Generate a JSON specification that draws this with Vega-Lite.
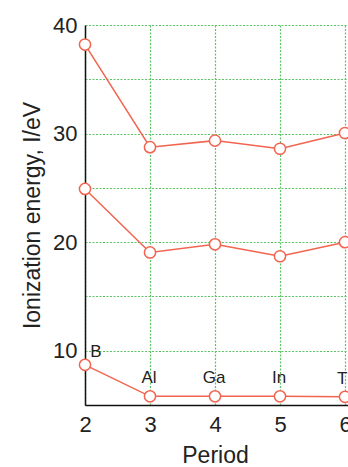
{
  "$schema": "https://vega.github.io/schema/vega-lite/v6.json",
  "autosize": "none",
  "padding": {"left": 85, "top": 25, "right": 0, "bottom": 62},
  "width": 325,
  "height": 380,
  "background": "white",
  "config": {
    "font": "Liberation Sans",
    "view": {"stroke": null},
    "axis": {"labelFont": "Liberation Sans", "titleFont": "Liberation Sans", "labelColor": "#222", "titleColor": "#222", "titleFontWeight": "normal", "labelFlush": false}
  },
  "data": {
    "values": [
      {"period": 2, "element": "B", "series": "I1", "energy": 8.7},
      {"period": 3, "element": "Al", "series": "I1", "energy": 5.8},
      {"period": 4, "element": "Ga", "series": "I1", "energy": 5.8},
      {"period": 5, "element": "In", "series": "I1", "energy": 5.8},
      {"period": 6, "element": "Tl", "series": "I1", "energy": 5.75},
      {"period": 2, "element": "B", "series": "I2", "energy": 24.9},
      {"period": 3, "element": "Al", "series": "I2", "energy": 19.05},
      {"period": 4, "element": "Ga", "series": "I2", "energy": 19.8},
      {"period": 5, "element": "In", "series": "I2", "energy": 18.7},
      {"period": 6, "element": "Tl", "series": "I2", "energy": 20.0},
      {"period": 2, "element": "B", "series": "I3", "energy": 38.2},
      {"period": 3, "element": "Al", "series": "I3", "energy": 28.75},
      {"period": 4, "element": "Ga", "series": "I3", "energy": 29.35},
      {"period": 5, "element": "In", "series": "I3", "energy": 28.6},
      {"period": 6, "element": "Tl", "series": "I3", "energy": 30.05}
    ]
  },
  "encoding": {
    "x": {
      "field": "period", "type": "quantitative",
      "scale": {"domain": [2, 7], "nice": false, "zero": false},
      "axis": {
        "values": [2, 3, 4, 5, 6],
        "title": "Period", "titleFontSize": 23, "titlePadding": 9,
        "labelFontSize": 22, "labelPadding": 9, "ticks": false, "labelFlush": false,
        "domainColor": "#111", "domainWidth": 1.5,
        "grid": true, "gridColor": "#5cc466", "gridDash": [2, 1.5], "gridWidth": 1.2,
        "titleX": 130
      }
    },
    "y": {
      "field": "energy", "type": "quantitative",
      "scale": {"domain": [5, 40], "nice": false, "zero": false},
      "axis": {
        "values": [5, 10, 15, 20, 25, 30, 35, 40],
        "labelExpr": "datum.value % 10 === 0 ? datum.label : ''",
        "title": "Ionization energy, I/eV", "titleFontSize": 23, "titlePadding": 8,
        "labelFontSize": 22, "labelPadding": 8, "ticks": false, "labelFlush": false,
        "domainColor": "#111", "domainWidth": 1.5,
        "grid": true, "gridColor": "#5cc466", "gridDash": [2, 1.5], "gridWidth": 1.2
      }
    }
  },
  "layer": [
    {
      "mark": {"type": "line", "color": "#f26450", "strokeWidth": 1.5},
      "encoding": {"detail": {"field": "series"}}
    },
    {
      "mark": {"type": "point", "shape": "circle", "filled": true, "fill": "white", "stroke": "#f26450", "strokeWidth": 1.5, "size": 125, "opacity": 1}
    },
    {
      "transform": [{"filter": "datum.series === 'I1' && datum.period === 2"}],
      "mark": {"type": "text", "fontSize": 17, "dx": 11, "dy": -13, "color": "#222", "font": "Liberation Sans"},
      "encoding": {"text": {"field": "element"}}
    },
    {
      "transform": [{"filter": "datum.series === 'I1' && datum.period > 2"}],
      "mark": {"type": "text", "fontSize": 17, "dx": -1, "dy": -18, "color": "#222", "font": "Liberation Sans"},
      "encoding": {"text": {"field": "element"}}
    }
  ]
}
